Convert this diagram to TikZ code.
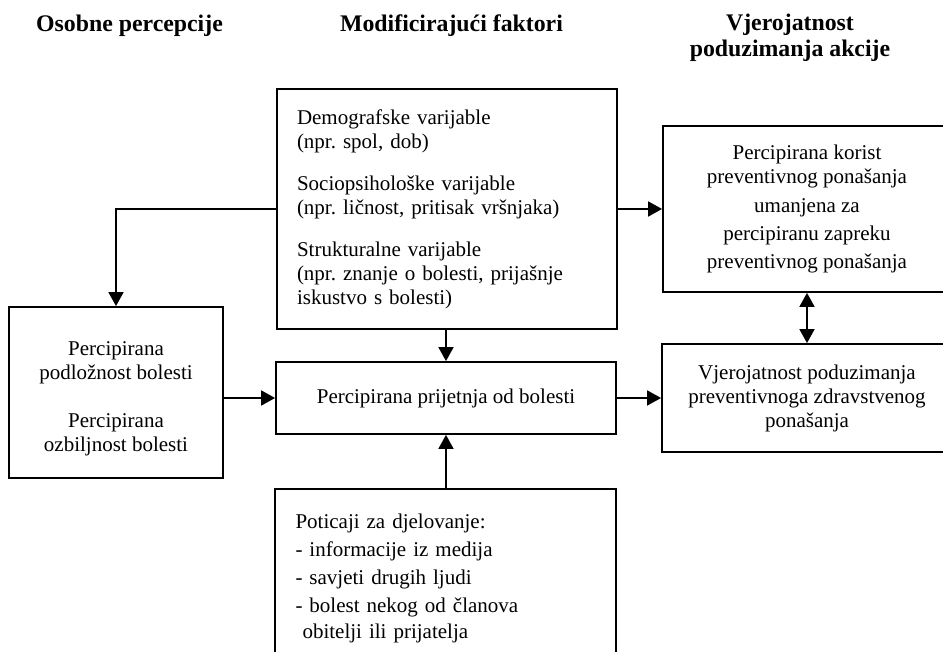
\documentclass[tikz,border=0pt]{standalone}
\usepackage{fontspec}
\setmainfont{Liberation Serif}
\usetikzlibrary{arrows.meta}
\frenchspacing
\begin{document}
\begin{tikzpicture}[x=1pt,y=-1pt,
  box/.style={draw, line width=1.8pt, inner sep=0pt, font=\fontsize{21}{24}\selectfont},
  head/.style={font=\fontsize{23.8}{26}\selectfont\bfseries, inner sep=0pt},
  flow/.style={line width=1.8pt, -{Triangle[length=14pt,width=15pt]}},
  both/.style={line width=1.8pt, {Triangle[length=14pt,width=15pt]}-{Triangle[length=14pt,width=15pt]}}
]
\useasboundingbox (0,0) rectangle (943,652);
\clip (0,0) rectangle (943,652);

% column headings
\node[head, anchor=base] (hOsob) at (129.5,31.5) {Osobne percepcije};
\node[head, anchor=base] (hMod) at (451.5,31.5) {Modificirajući faktori};
\node[head, anchor=north, align=center] (hVjer) at (790,13.5) {Vjerojatnost\\poduzimanja akcije};

% boxes
\node[box, minimum width=340pt, minimum height=240pt, text width=300pt, align=left] (mod) at (447,209)
  {Demografske varijable\\(npr. spol, dob)\\[18pt]Sociopsihološke varijable\\(npr. ličnost, pritisak vršnjaka)\\[18pt]Strukturalne varijable\\(npr. znanje o bolesti, prijašnje\\iskustvo s bolesti)};

\node[box, minimum width=288pt, minimum height=166pt, align=center] (benefit) at (807,209)
  {Percipirana korist\\preventivnog ponašanja\\[5pt]umanjena za\\[4pt]percipiranu zapreku\\[4pt]preventivnog ponašanja};

\node[box, minimum width=214pt, minimum height=171pt, align=center] (percept) at (116,392.5)
  {\rule{0pt}{25.5pt}Percipirana\\podložnost bolesti\\[24pt]Percipirana\\ozbiljnost bolesti};

\node[box, minimum width=340pt, minimum height=72pt] (threat) at (446,398)
  {Percipirana prijetnja od bolesti};

\node[box, minimum width=290pt, minimum height=108pt, align=center] (likely) at (807,398)
  {Vjerojatnost poduzimanja\\preventivnoga zdravstvenog\\ponašanja};

\node[box, minimum width=341pt, minimum height=179pt, text width=300pt, align=left] (cues) at (445.5,578.5)
  {Poticaji za djelovanje:\\[4pt]- informacije iz medija\\[4pt]- savjeti drugih ljudi\\[4pt]- bolest nekog od članova\\[2pt]\hspace*{7pt}obitelji ili prijatelja};

% connectors
\draw[flow] (mod.west) -| (percept.north);
\draw[flow] (mod.east) -- (benefit.west);
\draw[flow] (threat.north |- mod.south) -- (threat.north);
\draw[flow] (percept.east |- threat.west) -- (threat.west);
\draw[flow] (threat.east) -- (likely.west);
\draw[flow] (threat.south |- cues.north) -- (threat.south);
\draw[both] (benefit.south) -- (likely.north);
\end{tikzpicture}
\end{document}
